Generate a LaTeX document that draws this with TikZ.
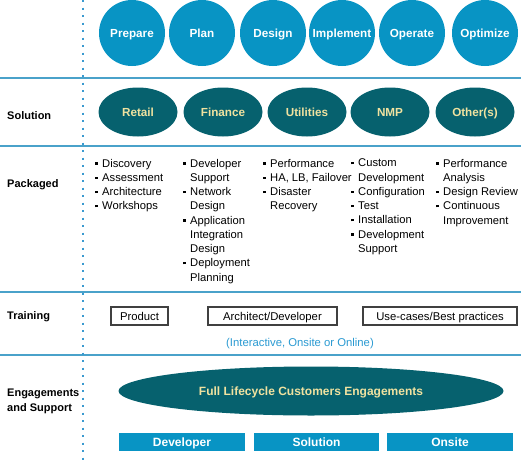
\documentclass[tikz,border=0pt]{standalone}
\usepackage{fontspec}
\setmainfont{Liberation Sans}
\usetikzlibrary{shapes.geometric}
\definecolor{cblue}{HTML}{0894C4}
\definecolor{cteal}{HTML}{06616E}
\definecolor{cyel}{HTML}{F0E2A0}
\definecolor{cline}{HTML}{4AA2CA}
\definecolor{cdot}{HTML}{3A9AD0}
\definecolor{ctxt}{HTML}{2A9AD2}
\definecolor{cbox}{HTML}{404040}
\newcommand\bul{\makebox[7pt][l]{\rule[2.4pt]{2.4pt}{2.4pt}}}
\newcommand\ind{\hspace*{7pt}}
\begin{document}
\begin{tikzpicture}[x=1pt,y=-1pt,
  sep/.style={draw=cline,line width=1.4pt},
  dotline/.style={draw=cdot,line width=1.6pt,dash pattern=on 2pt off 5.5pt},
  ctr/.style={text height=8.4pt,text depth=0pt},
  phase/.style={ctr,circle,fill=cblue,minimum size=66pt,inner sep=0pt,text=white,font=\bfseries\fontsize{11.7}{13}\selectfont},
  sol/.style={ctr,ellipse,fill=cteal,minimum width=79pt,minimum height=49pt,inner sep=0pt,text=cyel,font=\bfseries\fontsize{11.7}{13}\selectfont},
  lab/.style={anchor=base west,inner sep=0pt,align=left,font=\bfseries\fontsize{11}{15}\selectfont},
  col/.style={anchor=north west,inner sep=0pt,align=left,font=\fontsize{11.2}{14.25}\selectfont},
  tbox/.style={ctr,draw=cbox,line width=1.1pt,minimum height=18pt,inner sep=0pt,font=\fontsize{11.3}{13}\selectfont},
  bar/.style={ctr,fill=cblue,minimum height=18pt,inner sep=0pt,text=white,font=\bfseries\fontsize{12}{13}\selectfont}]
\useasboundingbox (0,0) rectangle (523,464);
\fill[white] (0,0) rectangle (523,464);
% separators
\draw[sep] (0,78) -- (521,78);
\draw[sep] (0,146) -- (521,146);
\draw[sep] (0,292) -- (521,292);
\draw[sep] (0,355) -- (521,355);
\draw[dotline] (83,0) -- (83,464);
% phases
\node[phase] (prepare) at (132,33) {Prepare};
\node[phase] (plan) at (202,33) {Plan};
\node[phase] (design) at (273,33) {Design};
\node[phase] (implement) at (342,33) {Implement};
\node[phase] (operate) at (412,33) {Operate};
\node[phase] (optimize) at (485,33) {Optimize};
% solution
\node[lab] (solution) at (7,119.2) {Solution};
\node[sol] (retail) at (138,112) {Retail};
\node[sol] (finance) at (223,112) {Finance};
\node[sol] (utilities) at (307,112) {Utilities};
\node[sol] (nmp) at (390,112) {NMP};
\node[sol] (others) at (475,112) {Other(s)};
% packaged
\node[lab] (packaged) at (7,187.2) {Packaged};
\node[col] (c1) at (95,158.8) {\bul Discovery\\\bul Assessment\\\bul Architecture\\\bul Workshops};
\node[col] (c2) at (183,158.8) {\bul Developer\\\ind Support\\\bul Network\\\ind Design\\\bul Application\\\ind Integration\\\ind Design\\\bul Deployment\\\ind Planning};
\node[col] (c3) at (263,158.8) {\bul Performance\\\bul HA, LB, Failover\\\bul Disaster\\\ind Recovery};
\node[col] (c4) at (351,158.8) {\bul Custom\\\ind Development\\\bul Configuration\\\bul Test\\\bul Installation\\\bul Development\\\ind Support};
\node[col] (c5) at (436,158.8) {\bul Performance\\\ind Analysis\\\bul Design Review\\\bul Continuous\\\ind Improvement};
% training
\node[lab] (training) at (7,319.5) {Training};
\node[tbox,minimum width=57pt] (product) at (139.5,316) {Product};
\node[tbox,minimum width=129pt] (archdev) at (272.5,316) {Architect/Developer};
\node[tbox,minimum width=154pt] (usecases) at (440,316) {Use-cases/Best practices};
\node[ctr,inner sep=0pt,text=ctxt,font=\fontsize{11.3}{13}\selectfont] (interactive) at (300,342) {(Interactive, Onsite or Online)};
% engagements
\node[anchor=west,inner sep=0pt,align=left,font=\bfseries\fontsize{11}{15}\selectfont] (engage) at (7,401.5) {Engagements\\and Support};
\node[ctr,ellipse,fill=cteal,minimum width=385pt,minimum height=49pt,inner sep=0pt,text=cyel,font=\bfseries\fontsize{12}{13}\selectfont] (full) at (311,391) {Full Lifecycle Customers Engagements};
\node[bar,minimum width=126pt] (developer) at (182,442) {Developer};
\node[bar,minimum width=125pt] (solbar) at (316.5,442) {Solution};
\node[bar,minimum width=126pt] (onsite) at (450,442) {Onsite};
\end{tikzpicture}
\end{document}
